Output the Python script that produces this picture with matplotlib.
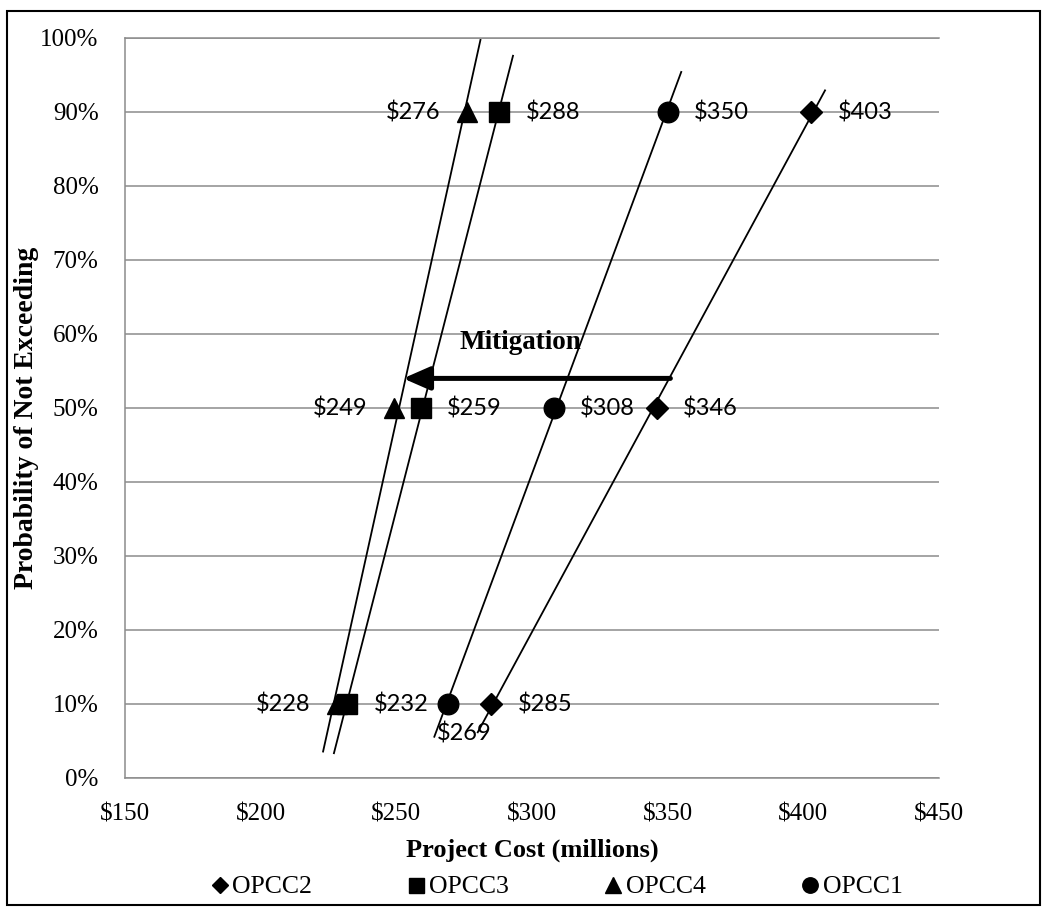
import numpy as np
import matplotlib
matplotlib.use("Agg")
from matplotlib import pyplot as plt
from matplotlib.patches import Rectangle
from matplotlib.lines import Line2D
from matplotlib.ticker import PercentFormatter, FuncFormatter

# Data: project cost (millions) at each probability of not exceeding
probs = [0.10, 0.50, 0.90]
series_names = ["OPCC2", "OPCC3", "OPCC4", "OPCC1"]
opcc2 = [285, 346, 403]
opcc3 = [232, 259, 288]
opcc4 = [228, 249, 276]
opcc1 = [269, 308, 350]
costs = [opcc2, opcc3, opcc4, opcc1]

markers = ["D", "s", "^", "o"]
marker_sizes = [11, 14.4, 14.5, 14.8]
# where each data label goes (one entry per point)
label_side = [
    ["right", "right", "right"],
    ["right", "right", "right"],
    ["left", "left", "left"],
    ["below", "right", "right"],
]

x_ticks = [150, 200, 250, 300, 350, 400, 450]
trend_forecast = 5  # trendline extends this far past first/last point

serif = "Liberation Serif"
label_font = "Lato"

W, H = 1047, 914
fig = plt.figure(figsize=(W / 100, H / 100), dpi=100)
ax = fig.add_axes([125 / W, 1 - 778 / H, (939 - 125) / W, (778 - 38) / H])

grid_col = "#8c8c8c"
ax.set_xlim(150, 450)
ax.set_ylim(0, 1)
ax.set_xticks(x_ticks)
ax.set_yticks(np.arange(0, 1.01, 0.1))
ax.yaxis.set_major_formatter(PercentFormatter(1.0, decimals=0))
ax.xaxis.set_major_formatter(FuncFormatter(lambda v, p: "${:.0f}".format(v)))
ax.grid(axis="y", color=grid_col, lw=1.1)
ax.set_axisbelow(True)
for s in ["left", "bottom", "top"]:
    ax.spines[s].set_color(grid_col)
    ax.spines[s].set_linewidth(1.1)
ax.spines["right"].set_visible(False)
ax.tick_params(length=0, labelsize=18)
ax.tick_params(axis="y", pad=19)
ax.tick_params(axis="x", pad=18)
for t in ax.get_xticklabels() + ax.get_yticklabels():
    t.set_fontfamily(serif)

handles = []
for name, xs, m, ms, sides in zip(series_names, costs, markers, marker_sizes, label_side):
    # linear trendline (y on x) with forecast both ways
    k, b = np.polyfit(xs, probs, 1)
    tx = np.array([min(xs) - trend_forecast, max(xs) + trend_forecast])
    ax.plot(tx, k * tx + b, color="black", lw=1.3, zorder=2)
    ax.plot(xs, probs, linestyle="none", marker=m, ms=ms, color="black", zorder=3)
    handles.append(Line2D([], [], linestyle="none", marker=m, ms=ms * 0.75,
                          color="black", label=name))
    for xv, yv, side in zip(xs, probs, sides):
        if side == "right":
            off, ha = (19, 0), "left"
        elif side == "left":
            off, ha = (-19, 0), "right"
        else:
            off, ha = (12, -21), "center"
        ax.annotate("${}".format(xv), (xv, yv), xytext=off, textcoords="offset points",
                    ha=ha, va="center", fontsize=17, family=label_font, zorder=4)

# Mitigation arrow
ax.annotate("", xy=(252.5, 0.54), xytext=(351, 0.54),
            arrowprops=dict(arrowstyle="-|>,head_length=0.8,head_width=0.35",
                            mutation_scale=20, lw=3.6, color="black",
                            shrinkA=0, shrinkB=0), zorder=5)
ax.text(295.6, 0.588, "Mitigation", ha="center", va="center", fontsize=19.5,
        fontweight="bold", family=serif)

fig.text(532 / W, 1 - 850 / H, "Project Cost (millions)", ha="center", va="center",
         fontsize=19, fontweight="bold", family=serif)
fig.text(27 / W, 1 - 418 / H, "Probability of Not Exceeding", ha="center", va="center",
         rotation=90, fontsize=20, fontweight="bold", family=serif)

fig.legend(handles=handles, loc="center", bbox_to_anchor=(556 / W, 1 - 887 / H), ncol=4,
           frameon=False, handlelength=0.8, handletextpad=0.1, columnspacing=3.65,
           prop={"family": serif, "size": 18.5})

# outer chart border
fig.add_artist(Rectangle((7 / W, 1 - 905 / H), (1040 - 7) / W, (905 - 11) / H,
                         transform=fig.transFigure, fill=False, lw=1.5, ec="black"))

fig.savefig("out.png", dpi=100)
